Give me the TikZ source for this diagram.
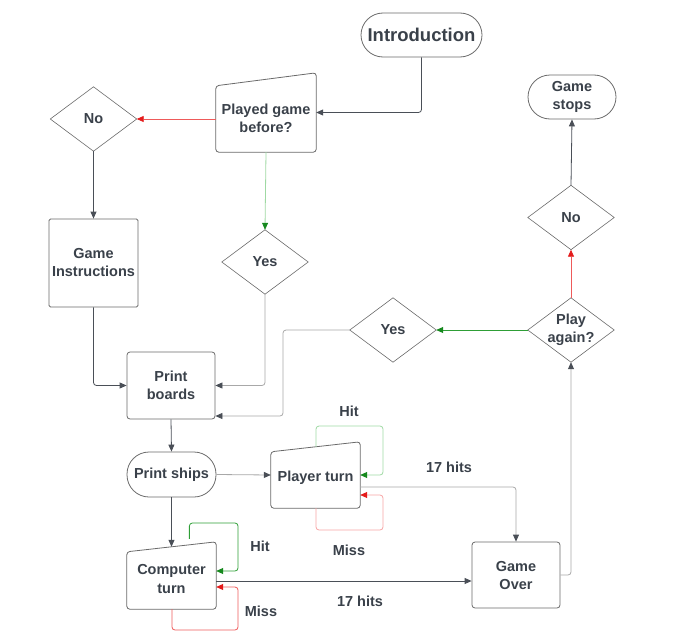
\documentclass[tikz,border=0pt]{standalone}
\usepackage{fontspec}
\setmainfont{Liberation Sans}
\usetikzlibrary{arrows.meta,calc}
\definecolor{txt}{HTML}{3A414A}
\definecolor{bord}{HTML}{6A6A6A}
\definecolor{dline}{HTML}{4A4F57}
\definecolor{lline}{HTML}{A8A8A8}
\definecolor{gtip}{HTML}{16891E}
\definecolor{gline}{HTML}{2E9E36}
\definecolor{glight}{HTML}{9FD9A3}
\definecolor{rtip}{HTML}{E41B1B}
\definecolor{rline}{HTML}{EE5A5A}
\definecolor{rlight}{HTML}{F7A3A3}
\newcommand\diam[1]{\draw[draw=bord,line width=0.6pt] (#1.north) -- (#1.east) -- (#1.south) -- (#1.west) -- cycle;}
\newcommand\minput[2]{\draw[draw=bord,line width=0.8pt,rounded corners=3pt] (#1.south west) -- ([yshift=-#2]#1.north west) -- (#1.north east) -- (#1.south east) -- cycle;}
\begin{document}
\begin{tikzpicture}[x=1pt,y=-1pt,
  lbl/.style={font=\bfseries\fontsize{14.5}{18}\selectfont, text=txt, align=center, inner sep=0pt},
  box/.style={lbl, draw=bord, line width=0.8pt, rounded corners=3pt, minimum width=89pt, minimum height=66pt},
  pill/.style={lbl, draw=bord, line width=0.8pt, rounded corners=22pt, minimum width=89pt, minimum height=44pt},
  plain/.style={lbl, minimum width=89pt, minimum height=66pt},
  dia/.style={lbl, minimum width=86pt, minimum height=64pt},
  arr/.style={-{Triangle[length=7pt,width=6pt]}, line width=0.8pt, rounded corners=3pt},
  darr/.style={arr, draw=dline},
  larr/.style={arr, draw=lline, -{Triangle[length=7pt,width=6pt,color=dline]}},
  garr/.style={arr, draw=gline, -{Triangle[length=7pt,width=6pt,color=gtip]}},
  glarr/.style={arr, draw=glight, -{Triangle[length=7pt,width=6pt,color=gtip]}},
  rarr/.style={arr, draw=rline, -{Triangle[length=7pt,width=6pt,color=rtip]}},
  rlarr/.style={arr, draw=rlight, -{Triangle[length=7pt,width=6pt,color=rtip]}},
]
\useasboundingbox (0,0) rectangle (693,637);
% nodes
\node[pill, minimum width=121pt, font=\bfseries\fontsize{18.5}{22}\selectfont] (intro) at (421.5,35) {Introduction};
\node[plain, minimum width=100pt, minimum height=79pt] (played) at (266,112.5) {};
\node[lbl] (played-t) at (266,118) {Played game\\before?};
\minput{played}{13pt}
\node[dia] (no1) at (93.5,119) {No};
\diam{no1}
\node[box, minimum height=88pt, rounded corners=1.5pt] (gi) at (93.5,263) {Game\\Instructions};
\node[dia] (yes1) at (265,262) {Yes};
\diam{yes1}
\node[box, minimum width=88pt, minimum height=67pt] (pb) at (171,385.5) {Print\\boards};
\node[pill, minimum height=45pt] (ps) at (171.5,474.5) {Print ships};
\node[plain, minimum height=66pt] (pt) at (315.5,475) {};
\node[lbl] (pt-t) at (315.5,478) {Player turn};
\minput{pt}{10pt}
\node[plain, minimum height=67pt] (ct) at (171.5,575.5) {};
\node[lbl] (ct-t) at (171.5,579) {Computer\\turn};
\minput{ct}{10pt}
\node[box, minimum width=88pt] (go) at (516,575) {Game\\Over};
\node[dia] (play) at (571,330) {Play\\again?};
\diam{play}
\node[dia] (yes2) at (393,330) {Yes};
\diam{yes2}
\node[dia] (no2) at (571,217.5) {No};
\diam{no2}
\node[pill, minimum width=88pt] (gs) at (572,97) {Game\\stops};
% labels
\node[lbl] (hit1) at (349,411) {Hit};
\node[lbl] (miss1) at (349,550) {Miss};
\node[lbl] (h17a) at (449,467) {17 hits};
\node[lbl] (hit2) at (260,546) {Hit};
\node[lbl] (miss2) at (261,611) {Miss};
\node[lbl] (h17b) at (360,601) {17 hits};
% coordinates
\coordinate (c1) at (283,416);
\coordinate (pgT) at (316,426);
\coordinate (pgR) at (383,475);
\coordinate (prB) at (316,530);
\coordinate (prR) at (383,495);
\coordinate (cgT) at (189,523);
\coordinate (cgR) at (238,571);
\coordinate (crB) at (172,630);
\coordinate (crR) at (238,587);
% connectors
\draw[darr] (intro.south) |- (played.east);
\draw[rarr] (no1.east -| played.west) -- (no1.east);
\draw[garr, draw=glight] (played.south) -- (yes1.north);
\draw[darr] (no1.south) -- (gi.north);
\draw[darr] (gi.south) |- (pb.west);
\draw[larr] (yes1.south) |- (pb.east);
\draw[larr] (yes2.west) -| (c1) -- (c1 -| pb.east);
\draw[garr] (play.west) -- (yes2.east);
\draw[rarr] (play.north) -- (no2.south);
\draw[darr] (no2.north) -- (gs.south);
\draw[larr] (go.east) -| (play.south);
\draw[darr] (pb.south) -- (ps.north);
\draw[larr] (ps.east) -- (pt.west);
\draw[darr] (ps.south) -- ([yshift=-5pt]ct.north);
% player loops
\draw[glarr] ([yshift=-5pt]pt.north -| pgT) |- (pgT -| pgR) -- (pgR) -- (pgR -| pt.east);
\draw[rlarr] (pt.south -| prB) -- (prB) -| (prR) -- (prR -| pt.east);
\draw[larr] ([yshift=-12pt]pt.east) -| (go.north);
% computer loops
\draw[garr] ($(ct.north west)!0.7!(ct.north east)+(0,-3)$) |- (cgT -| cgR) -- (cgR) -- (cgR -| ct.east);
\draw[rarr] (ct.south -| crB) -- (crB) -| (crR) -- (crR -| ct.east);
\draw[darr] ([yshift=-5.5pt]ct.east) -- ([yshift=-5.5pt]ct.east -| go.west);
\end{tikzpicture}
\end{document}
